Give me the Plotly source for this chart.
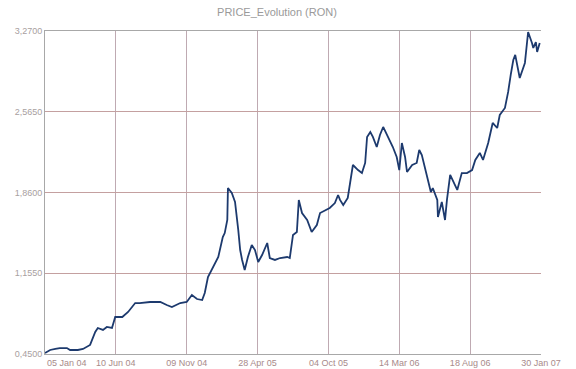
import plotly.graph_objects as go

# trading-day index of each reading and price (RON)
day_index = [0, 8, 16, 23, 34, 39, 43, 51, 59, 70, 78, 82, 90, 96, 104, 109, 120, 129, 140, 147,
             163, 179, 189, 197, 210, 220, 228, 236, 244, 248, 253, 261, 269, 276, 279, 283, 284,
             290, 295, 300, 303, 306, 310, 315, 321, 326, 331, 337, 345, 349, 357, 365, 376, 380,
             385, 391, 394, 399, 407, 414, 422, 427, 435, 442, 450, 455, 458, 463, 470, 475, 478,
             486, 492, 497, 500, 505, 509, 515, 520, 525, 531, 536, 540, 546, 550, 554, 559, 562,
             570, 577, 581, 585, 590, 595, 599, 602, 609, 610, 616, 621, 624, 629, 633, 640, 647,
             655, 663, 668, 675, 680, 688, 695, 702, 706, 714, 719, 723, 727, 730, 734, 737, 745,
             750, 756, 758, 762, 764, 768]
price = [0.459, 0.485, 0.494, 0.502, 0.502, 0.485, 0.485, 0.485, 0.494, 0.529, 0.642, 0.677, 0.660,
         0.686, 0.677, 0.773, 0.773, 0.817, 0.895, 0.895, 0.904, 0.904, 0.878, 0.860, 0.895, 0.904,
         0.965, 0.930, 0.921, 0.983, 1.122, 1.210, 1.297, 1.471, 1.506, 1.620, 1.899, 1.856, 1.777,
         1.533, 1.358, 1.271, 1.183, 1.297, 1.402, 1.358, 1.253, 1.314, 1.419, 1.288, 1.271, 1.288,
         1.297, 1.288, 1.489, 1.515, 1.795, 1.681, 1.620, 1.515, 1.576, 1.681, 1.707, 1.725, 1.768,
         1.838, 1.795, 1.751, 1.812, 1.969, 2.100, 2.056, 2.030, 2.118, 2.345, 2.388, 2.345, 2.257,
         2.362, 2.432, 2.362, 2.301, 2.257, 2.170, 2.056, 2.292, 2.170, 2.039, 2.100, 2.118, 2.231,
         2.187, 2.074, 1.943, 1.864, 1.899, 1.795, 1.646, 1.777, 1.620, 1.795, 2.013, 1.969, 1.882,
         2.030, 2.030, 2.056, 2.144, 2.205, 2.144, 2.292, 2.467, 2.423, 2.537, 2.598, 2.738, 2.886,
         3.017, 3.061, 2.930, 2.860, 2.991, 3.261, 3.165, 3.122, 3.174, 3.087, 3.165]

x_tick_index = [0, 110, 220, 330, 440, 550, 660, 770]
x_tick_labels = ["05 Jan 04", "10 Jun 04", "09 Nov 04", "28 Apr 05", "04 Oct 05",
                 "14 Mar 06", "18 Aug 06", "30 Jan 07"]
y_tick_values = [0.45, 1.155, 1.86, 2.565, 3.27]
y_tick_labels = ["0,4500", "1,1550", "1,8600", "2,5650", "3,2700"]

fig = go.Figure()
fig.add_trace(go.Scatter(x=day_index, y=price, mode="lines",
                         line=dict(color="#1d3a6e", width=1.8), hoverinfo="skip"))

font = "Liberation Sans, Arial, sans-serif"
W, H = 576, 369
fig.update_layout(
    width=W, height=H,
    margin=dict(l=45, r=35, t=31, b=15, autoexpand=False),
    paper_bgcolor="white", plot_bgcolor="white",
    showlegend=False,
    title=dict(text="PRICE_Evolution (RON)", x=277/W, xanchor="center",
               y=1 - 12/H, yanchor="middle", automargin=False,
               font=dict(family=font, size=11, color="#9a9a9a")),
    xaxis=dict(range=[0, 770], tickmode="array", tickvals=x_tick_index,
               ticktext=[""] + x_tick_labels[1:], automargin=False,
               showgrid=True, gridcolor="#bfaab2", gridwidth=1,
               showline=True, linecolor="#a8a8a8", linewidth=1, mirror=True,
               ticks="", zeroline=False,
               tickfont=dict(family=font, size=9, color="#a88a8a")),
    yaxis=dict(range=[0.45, 3.27], tickmode="array", tickvals=y_tick_values,
               ticktext=y_tick_labels, automargin=False,
               showgrid=True, gridcolor="#c4a0a0", gridwidth=1,
               showline=True, linecolor="#a8a8a8", linewidth=1,
               ticks="", zeroline=False,
               tickfont=dict(family=font, size=9, color="#a8a0a0")),
)
fig.add_annotation(x=x_tick_index[0], y=0, xref="x", yref="paper", yshift=-2,
                   text=x_tick_labels[0], showarrow=False, xanchor="left", yanchor="top",
                   font=dict(family=font, size=9, color="#a88a8a"))

fig.write_html("out.html", config={"displayModeBar": False},
               post_script="document.body.style.margin='0';document.body.style.overflow='hidden';")
